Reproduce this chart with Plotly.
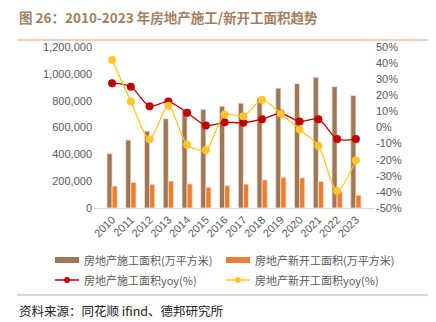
import plotly.graph_objects as go

years = ["2010", "2011", "2012", "2013", "2014", "2015", "2016",
         "2017", "2018", "2019", "2020", "2021", "2022", "2023"]
construction_area = [405356, 506775, 573418, 665572, 726482, 735693, 758975,
                     781484, 822300, 893821, 926759, 975387, 904999, 838364]
new_start_area = [163647, 191237, 177334, 201208, 179592, 154454, 166928,
                  178654, 209342, 227154, 224433, 198895, 120587, 95376]
construction_yoy = [27.5, 25.3, 13.2, 16.1, 9.2, 1.3, 3.2,
                    3.0, 5.2, 8.7, 3.7, 5.2, -7.2, -7.2]
new_start_yoy = [42.0, 16.2, -7.3, 13.5, -10.7, -14.0, 8.1,
                 7.0, 17.2, 8.5, -1.2, -11.4, -39.4, -20.4]
left_ticks = [0, 200000, 400000, 600000, 800000, 1000000, 1200000]
right_ticks = [-50, -40, -30, -20, -10, 0, 10, 20, 30, 40, 50]

names = ["房地产施工面积(万平方米)", "房地产新开工面积(万平方米)",
         "房地产施工面积yoy(%)", "房地产新开工面积yoy(%)"]
BROWN = "#9f7756"
ORANGE = "#ed7d31"
RED = "#c00000"
YELLOW = "#ffc629"
GRAY = "#595959"
CJK = "Noto Sans CJK SC"

W, H = 436, 322
L, R, T, B = 93, 61, 47, 114
PW, PH = W - L - R, H - T - B


def px(x):
    return (x - L) / PW


def py(y):
    return (H - B - y) / PH


fig = go.Figure()
fig.add_trace(go.Bar(x=years, y=construction_area, name=names[0],
                     marker=dict(color=BROWN, line=dict(color="#f3e9df", width=0.8)),
                     showlegend=False))
fig.add_trace(go.Bar(x=years, y=new_start_area, name=names[1],
                     marker=dict(color=ORANGE, line=dict(color="#fbe3d2", width=0.8)),
                     showlegend=False))
fig.add_trace(go.Scatter(x=years, y=construction_yoy, name=names[2], yaxis="y2",
                         mode="lines+markers", line=dict(color=RED, width=1.3, shape="spline", smoothing=0.8),
                         marker=dict(color=RED, size=8), showlegend=False))
fig.add_trace(go.Scatter(x=years, y=new_start_yoy, name=names[3], yaxis="y2",
                         mode="lines+markers", line=dict(color=YELLOW, width=1.3, shape="spline", smoothing=0.8),
                         marker=dict(color=YELLOW, size=8), showlegend=False))

shapes = []
annotations = []

# title and rules
annotations.append(dict(xref="paper", yref="paper", x=px(17), y=py(17), xanchor="left", yanchor="middle",
                        text="<b>图 26：2010-2023 年房地产施工/新开工面积趋势</b>", showarrow=False,
                        font=dict(family=CJK, size=13.5, color="#a2805f")))
shapes.append(dict(type="line", xref="paper", yref="paper", x0=px(17), x1=px(428), y0=py(40), y1=py(40),
                   line=dict(color="#c9a68c", width=1)))
shapes.append(dict(type="line", xref="paper", yref="paper", x0=px(17), x1=px(428), y0=py(295), y1=py(295),
                   line=dict(color="#c9a68c", width=1)))
annotations.append(dict(xref="paper", yref="paper", x=px(17), y=py(310), xanchor="left", yanchor="middle",
                        text="资料来源：同花顺 ifind、德邦研究所", showarrow=False,
                        font=dict(family=CJK, size=12.5, color="#222222")))

# legend
legend_pos = [(55, 260), (226, 260), (55, 280), (226, 280)]
for i, (lx, ly) in enumerate(legend_pos):
    if i < 2:
        shapes.append(dict(type="rect", xref="paper", yref="paper", x0=px(lx), x1=px(lx + 24),
                           y0=py(ly - 3), y1=py(ly + 3), fillcolor=[BROWN, ORANGE][i], line=dict(width=0)))
    else:
        c = [RED, YELLOW][i - 2]
        shapes.append(dict(type="line", xref="paper", yref="paper", x0=px(lx), x1=px(lx + 24),
                           y0=py(ly), y1=py(ly), line=dict(color=c, width=1.5)))
        shapes.append(dict(type="circle", xref="paper", yref="paper", x0=px(lx + 9), x1=px(lx + 15),
                           y0=py(ly - 3), y1=py(ly + 3), fillcolor=c, line=dict(width=0)))
    annotations.append(dict(xref="paper", yref="paper", x=px(lx + 27), y=py(ly), xanchor="left",
                            yanchor="middle", text=names[i], showarrow=False,
                            font=dict(family=CJK, size=11, color=GRAY)))

fig.update_layout(
    width=W, height=H, margin=dict(l=L, r=R, t=T, b=B, autoexpand=False),
    paper_bgcolor="white", plot_bgcolor="white",
    barmode="group", bargap=0.45, bargroupgap=0.0,
    font=dict(family="Liberation Sans, Arial", size=11, color=GRAY),
    xaxis=dict(type="category", tickangle=-45, showline=True, linecolor="#d9d9d9", linewidth=1,
               ticks="", showgrid=False, tickfont=dict(size=11, color=GRAY)),
    yaxis=dict(range=[0, 1200000], tickvals=left_ticks, tickformat=",", showgrid=False,
               zeroline=False, showline=False, ticks="", tickfont=dict(size=11, color=GRAY)),
    yaxis2=dict(overlaying="y", side="right", range=[-50, 50], tickvals=right_ticks,
                ticktext=[f"{v}%" for v in right_ticks], showgrid=False, zeroline=False,
                showline=False, ticks="", tickfont=dict(size=11, color=GRAY)),
    shapes=shapes, annotations=annotations,
)

fig.write_html("out.html")
